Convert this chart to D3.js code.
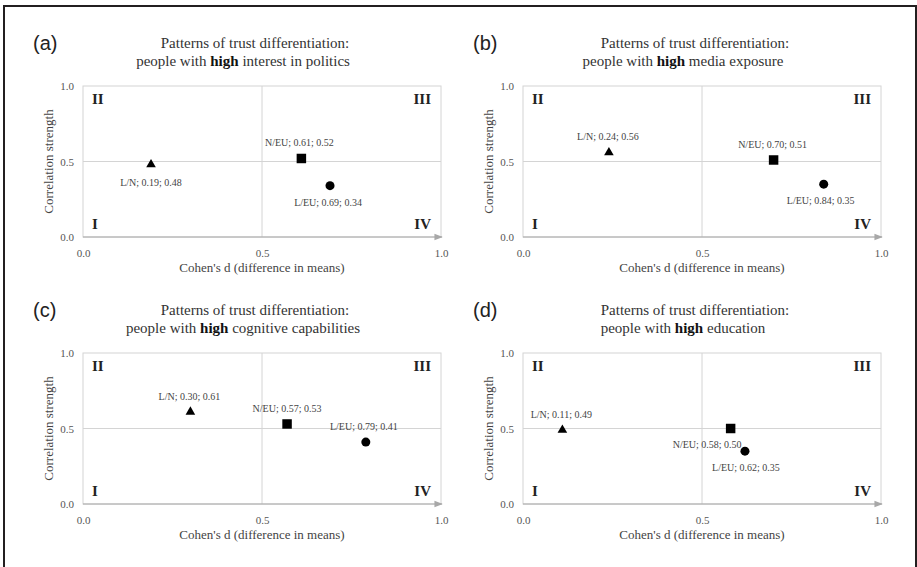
<!DOCTYPE html>
<html>
<head>
<meta charset="utf-8">
<script src="https://cdn.jsdelivr.net/npm/d3@7"></script>
<style>
  body { margin: 0; background: #fff; }
  svg { display: block; }
</style>
</head>
<body>
<div id="chart"></div>
<script>
// data
var panelTags = ["(a)", "(b)", "(c)", "(d)"];
var groups = ["interest in politics", "media exposure", "cognitive capabilities", "education"];
var seriesNames = ["L/N", "N/EU", "L/EU"];
var lnX = [0.19, 0.24, 0.30, 0.11];
var lnY = [0.48, 0.56, 0.61, 0.49];
var neuX = [0.61, 0.70, 0.57, 0.58];
var neuY = [0.52, 0.51, 0.53, 0.50];
var leuX = [0.69, 0.84, 0.79, 0.62];
var leuY = [0.34, 0.35, 0.41, 0.35];
var tickVals = [0, 0.5, 1];
var quadrants = ["I", "II", "III", "IV"];

// layout (pixel positions of each plot box, label offsets)
var W = 917, H = 567;
var boxes = [
  {left: 83, top: 86}, {left: 523, top: 86},
  {left: 83, top: 353}, {left: 523, top: 353}
];
var pw = 358, ph = 151;
// label offsets per panel per series: [dx, dy, anchor]
var labelPos = [
  [[0, 18, "middle"], [-2, -15, "middle"], [-2, 17, "middle"]],
  [[-1, -15, "middle"], [-1, -15, "middle"], [-3, 17, "middle"]],
  [[-1, -15, "middle"], [0, -15, "middle"], [-2, -15, "middle"]],
  [[-1, -15, "middle"], [11, 16, "end"], [1, 17, "middle"]]
];

var svg = d3.select("#chart").append("svg")
  .attr("width", W).attr("height", H);

svg.append("rect").attr("width", W).attr("height", H).attr("fill", "#fff");

// outer frame (open at the bottom)
svg.append("path")
  .attr("d", "M4," + H + "V6H916V" + H)
  .attr("fill", "none").attr("stroke", "#231f20").attr("stroke-width", 2);

var defs = svg.append("defs");
defs.append("marker").attr("id", "arrow")
  .attr("viewBox", "0 0 10 10").attr("refX", 9).attr("refY", 5)
  .attr("markerWidth", 7).attr("markerHeight", 7).attr("orient", "auto")
  .append("path").attr("d", "M0,1L10,5L0,9Z").attr("fill", "#a8a8a8");

var serif = "'Liberation Serif', 'Times New Roman', serif";

boxes.forEach(function (b, i) {
  var x = d3.scaleLinear().domain([0, 1]).range([b.left, b.left + pw]);
  var y = d3.scaleLinear().domain([0, 1]).range([b.top + ph, b.top]);
  var g = svg.append("g");

  // tag and title
  g.append("text").attr("x", b.left - 50).attr("y", b.top - 36)
    .attr("font-family", "'Liberation Sans', Arial, sans-serif")
    .attr("font-size", 20).attr("fill", "#222").text(panelTags[i]);
  g.append("text").attr("x", b.left + 172).attr("y", b.top - 38)
    .attr("text-anchor", "middle").attr("font-family", serif)
    .attr("font-size", 15).attr("fill", "#333")
    .text("Patterns of trust differentiation:");
  var t2 = g.append("text").attr("x", b.left + 160).attr("y", b.top - 20)
    .attr("text-anchor", "middle").attr("font-family", serif)
    .attr("font-size", 15).attr("fill", "#333");
  t2.append("tspan").text("people with ");
  t2.append("tspan").attr("font-weight", "bold").attr("fill", "#111").text("high");
  t2.append("tspan").text(" " + groups[i]);

  // box and cross lines
  g.append("rect").attr("x", x(0)).attr("y", y(1))
    .attr("width", x(1) - x(0)).attr("height", y(0) - y(1))
    .attr("fill", "none").attr("stroke", "#d4d4d4").attr("stroke-width", 1);
  g.append("line").attr("x1", x(0.5)).attr("x2", x(0.5)).attr("y1", y(0)).attr("y2", y(1))
    .attr("stroke", "#d4d4d4");
  g.append("line").attr("x1", x(0)).attr("x2", x(1)).attr("y1", y(0.5)).attr("y2", y(0.5))
    .attr("stroke", "#d4d4d4");
  g.append("line").attr("x1", x(0)).attr("x2", x(1) + 1).attr("y1", y(0)).attr("y2", y(0))
    .attr("stroke", "#a8a8a8").attr("stroke-width", 1.2).attr("marker-end", "url(#arrow)");

  // axes
  var ya = g.append("g").attr("transform", "translate(" + (x(0) - 6) + ",0)")
    .call(d3.axisLeft(y).tickValues(tickVals).tickFormat(d3.format(".1f")).tickSize(0));
  var xa = g.append("g").attr("transform", "translate(0," + (y(0) + 9) + ")")
    .call(d3.axisBottom(x).tickValues(tickVals).tickFormat(d3.format(".1f")).tickSize(0));
  [ya, xa].forEach(function (a) {
    a.select(".domain").remove();
    a.selectAll("text").attr("font-family", serif).attr("font-size", 11).attr("fill", "#555");
  });

  g.append("text").attr("x", x(0.5)).attr("y", y(0) + 35)
    .attr("text-anchor", "middle").attr("font-family", serif)
    .attr("font-size", 13).attr("fill", "#444").text("Cohen's d (difference in means)");
  g.append("text")
    .attr("transform", "translate(" + (x(0) - 30) + "," + y(0.5) + ") rotate(-90)")
    .attr("text-anchor", "middle").attr("font-family", serif)
    .attr("font-size", 13).attr("fill", "#444").text("Correlation strength");

  // quadrant numerals
  var qx = [x(0) + 9, x(0) + 9, x(1) - 10, x(1) - 10];
  var qy = [y(0) - 8, y(1) + 18, y(1) + 18, y(0) - 8];
  var qa = ["start", "start", "end", "end"];
  quadrants.forEach(function (q, k) {
    g.append("text").attr("x", qx[k]).attr("y", qy[k]).attr("text-anchor", qa[k])
      .attr("font-family", serif).attr("font-weight", "bold")
      .attr("font-size", 15).attr("fill", "#222").text(q);
  });

  // points
  var pts = [
    {name: seriesNames[0], x: lnX[i], y: lnY[i], shape: d3.symbolTriangle, size: 40},
    {name: seriesNames[1], x: neuX[i], y: neuY[i], shape: d3.symbolSquare, size: 90},
    {name: seriesNames[2], x: leuX[i], y: leuY[i], shape: d3.symbolCircle, size: 64}
  ];
  pts.forEach(function (p, k) {
    g.append("path")
      .attr("d", d3.symbol().type(p.shape).size(p.size)())
      .attr("transform", "translate(" + x(p.x) + "," + y(p.y) + ")")
      .attr("fill", "#000");
    var lp = labelPos[i][k];
    g.append("text").attr("x", x(p.x) + lp[0]).attr("y", y(p.y) + lp[1] + 3)
      .attr("text-anchor", lp[2]).attr("font-family", serif)
      .attr("font-size", 10).attr("fill", "#444")
      .text(p.name + "; " + p.x.toFixed(2) + "; " + p.y.toFixed(2));
  });
});
</script>
</body>
</html>
